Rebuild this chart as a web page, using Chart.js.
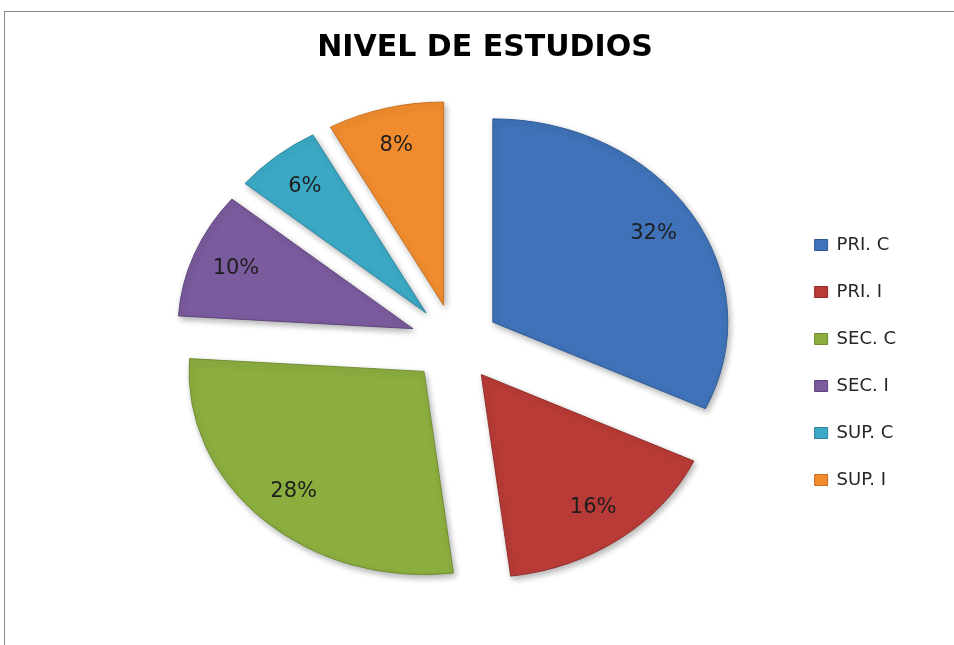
<!DOCTYPE html>
<html lang="es">
<head>
<meta charset="utf-8">
<title>Nivel de estudios</title>
<script src="https://cdn.jsdelivr.net/npm/chart.js@4.4.1/dist/chart.umd.min.js"></script>
<style>
  html, body { margin: 0; padding: 0; background: #fff; overflow: hidden; }
  #wrap { position: relative; width: 954px; height: 645px; overflow: hidden; }
  #frame {
    position: absolute; left: 4px; top: 11px; width: 1000px; height: 700px;
    border-top: 1px solid #8a8a8a; border-left: 1px solid #8a8a8a;
    pointer-events: none;
  }
</style>
</head>
<body>
<div id="wrap">
  <canvas id="chart"></canvas>
  <div id="frame"></div>
</div>
<script>
// datos del gráfico
const categories = ['PRI. C', 'PRI. I', 'SEC. C', 'SEC. I', 'SUP. C', 'SUP. I'];
const percentages = [32, 16, 28, 10, 6, 8];
const sliceColors = ['#3f72b8', '#b93b37', '#8bae3f', '#7a5b9d', '#3ba9c5', '#f08c2e'];
const sliceEdges = ['#2f5a94', '#8f2c29', '#6d8a2f', '#5d4479', '#2c849b', '#c46e1f'];

const EXPLODE = 45;    // separación de cada porción (px)
const SQUASH = 0.865;  // el pastel del original es más ancho que alto
const LABEL_AT = 0.81; // posición de las etiquetas sobre el radio
const TITLE_SHIFT = -30; // el título no está centrado sobre todo el lienzo

// Dibuja las porciones separadas (sin agrandar las pequeñas) y los porcentajes
const explodedPie = {
  id: 'explodedPie',
  afterLayout(chart) {
    const t = chart.titleBlock;
    if (t) {
      t.left += TITLE_SHIFT;
      t.right += TITLE_SHIFT;
    }
  },
  beforeDatasetDraw(chart, args) {
    const ctx = chart.ctx;
    const arcs = args.meta.data;
    if (!arcs.length) return;
    const cx = arcs[0].x, cy = arcs[0].y;

    ctx.save();
    ctx.translate(cx, cy);
    ctx.scale(1, SQUASH);
    ctx.translate(-cx, -cy);
    arcs.forEach(arc => {
      const mid = (arc.startAngle + arc.endAngle) / 2;
      ctx.save();
      ctx.translate(Math.cos(mid) * EXPLODE, Math.sin(mid) * EXPLODE);
      ctx.shadowColor = 'rgba(0, 0, 0, 0.3)';
      ctx.shadowBlur = 6;
      ctx.shadowOffsetX = 2;
      ctx.shadowOffsetY = 3;
      arc.draw(ctx, chart.chartArea);
      ctx.restore();
    });
    ctx.restore();

    ctx.save();
    ctx.font = '21px "DejaVu Sans"';
    ctx.fillStyle = '#1e1e1e';
    ctx.textAlign = 'center';
    ctx.textBaseline = 'middle';
    arcs.forEach((arc, i) => {
      const mid = (arc.startAngle + arc.endAngle) / 2;
      const d = EXPLODE + arc.outerRadius * LABEL_AT;
      ctx.fillText(percentages[i] + '%', cx + Math.cos(mid) * d, cy + Math.sin(mid) * d * SQUASH);
    });
    ctx.restore();
    return false;
  }
};

new Chart(document.getElementById('chart'), {
  type: 'pie',
  data: {
    labels: categories,
    datasets: [{
      data: percentages,
      backgroundColor: sliceColors,
      borderColor: sliceEdges,
      borderWidth: 1,
      radius: 235,
      clip: false
    }]
  },
  options: {
    responsive: true,
    maintainAspectRatio: false,
    animation: false,
    events: [],
    layout: { padding: { left: 124, right: 48, top: 0, bottom: 35 } },
    plugins: {
      title: {
        display: true,
        text: 'NIVEL DE ESTUDIOS',
        color: '#000',
        font: { family: 'DejaVu Sans', size: 30, weight: 'bold', lineHeight: 1.2 },
        padding: { top: 30, bottom: 10 }
      },
      legend: {
        position: 'right',
        fullSize: false,
        title: { display: true, text: '', font: { size: 11, lineHeight: 1 }, padding: 14 },
        labels: {
          boxWidth: 13,
          boxHeight: 11,
          padding: 29,
          color: '#262626',
          font: { family: 'DejaVu Sans', size: 18 }
        }
      },
      tooltip: { enabled: false }
    }
  },
  plugins: [explodedPie]
});
</script>
</body>
</html>
